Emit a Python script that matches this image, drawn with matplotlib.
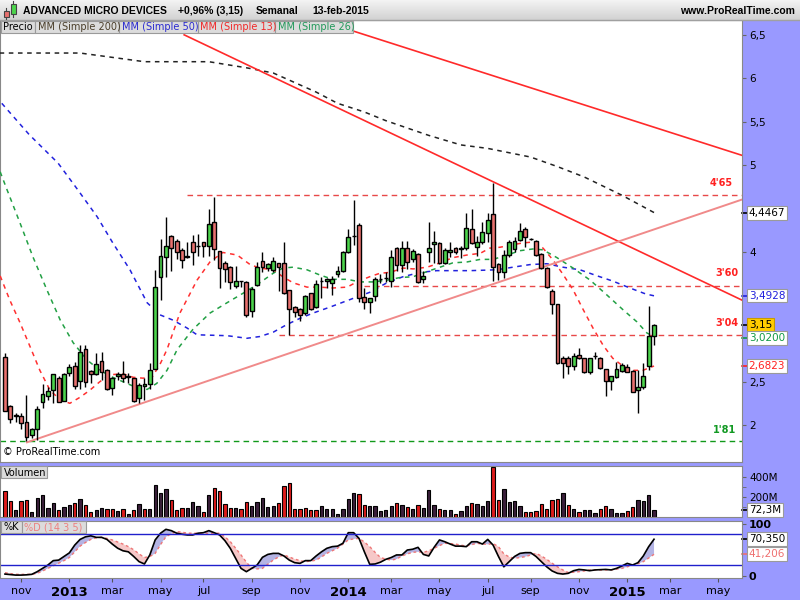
import numpy as np
import pandas as pd
import matplotlib
matplotlib.use('Agg')
from matplotlib import pyplot as plt
from matplotlib import transforms
from matplotlib.patches import Rectangle

plt.rcParams['font.family'] = ['DejaVu Sans']

# weekly bars, first one ends 19-oct-2012, last one 13-feb-2015
first_bar = '2012-10-19'

opens = [2.78, 2.22, 2.12, 2.10, 2.03, 1.89, 1.95, 2.27, 2.34, 2.40,
         2.54, 2.28, 2.60, 2.68, 2.51, 2.88, 2.62, 2.585, 2.74, 2.63,
         2.43, 2.565, 2.585, 2.55, 2.54, 2.31, 2.45, 2.47, 2.65, 3.71,
         3.94, 4.18, 4.12, 4.02, 3.95, 4.11, 4.07, 4.11, 4.07, 4.34,
         4.01, 3.865, 3.82, 3.605, 3.655, 3.645, 3.31, 3.62, 3.89, 3.81,
         3.79, 3.865, 3.865, 3.56, 3.365, 3.335, 3.29, 3.52, 3.36, 3.655,
         3.655, 3.635, 3.74, 3.78, 4.00, 4.185, 4.31, 3.48, 3.42, 3.49,
         3.685, 3.70, 3.655, 4.04, 3.845, 4.04, 3.92, 3.97, 3.68, 4.00,
         4.09, 4.095, 3.865, 3.99, 4.04, 4.025, 4.04, 4.255, 4.05, 4.11,
         4.22, 4.435, 3.855, 3.76, 3.955, 4.025, 4.135, 4.255, 4.145, 4.12,
         3.97, 3.81, 3.55, 3.40, 2.77, 2.775, 2.68, 2.81, 2.77, 2.615,
         2.79, 2.77, 2.64, 2.51, 2.55, 2.625, 2.67, 2.62, 2.40, 2.435,
         2.685, 3.03]
highs = [2.83, 2.23, 2.135, 2.14, 2.35, 1.97, 2.22, 2.47, 2.44, 2.585,
         2.565, 2.60, 2.70, 2.73, 2.92, 2.92, 2.63, 2.83, 2.84, 2.64,
         2.555, 2.61, 2.74, 2.60, 2.545, 2.48, 2.54, 2.71, 3.79, 4.15,
         4.40, 4.19, 4.14, 4.04, 4.11, 4.19, 4.20, 4.115, 4.49, 4.63,
         4.01, 3.895, 3.835, 3.835, 3.66, 3.66, 3.595, 3.885, 3.99, 3.865,
         3.94, 3.865, 4.115, 3.56, 3.37, 3.345, 3.50, 3.525, 3.67, 3.71,
         3.69, 3.72, 3.835, 4.01, 4.26, 4.60, 4.335, 3.585, 3.47, 3.71,
         3.74, 3.77, 4.02, 4.055, 4.125, 4.125, 4.03, 3.98, 3.78, 4.345,
         4.24, 4.115, 4.04, 4.115, 4.055, 4.065, 4.44, 4.49, 4.18, 4.345,
         4.45, 4.795, 3.865, 4.02, 4.135, 4.17, 4.325, 4.28, 4.155, 4.135,
         3.98, 3.82, 3.565, 3.40, 2.79, 2.79, 2.83, 2.885, 2.775, 2.775,
         2.845, 2.78, 2.645, 2.57, 2.725, 2.71, 2.70, 2.635, 2.635, 2.72,
         3.37, 3.17]
lows = [2.16, 2.02, 2.04, 1.95, 1.81, 1.85, 1.83, 2.20, 2.29, 2.25,
        2.26, 2.28, 2.56, 2.42, 2.42, 2.44, 2.48, 2.58, 2.52, 2.40,
        2.35, 2.52, 2.49, 2.48, 2.27, 2.25, 2.29, 2.42, 2.65, 3.44,
        3.71, 3.78, 3.91, 3.81, 3.93, 3.85, 3.95, 3.94, 3.95, 3.90,
        3.58, 3.65, 3.565, 3.585, 3.595, 3.24, 3.24, 3.60, 3.76, 3.78,
        3.77, 3.54, 3.51, 3.04, 3.25, 3.20, 3.27, 3.33, 3.345, 3.47,
        3.58, 3.50, 3.71, 3.77, 3.98, 4.08, 3.42, 3.335, 3.29, 3.43,
        3.64, 3.65, 3.59, 3.775, 3.77, 3.795, 3.885, 3.64, 3.64, 3.885,
        3.865, 3.855, 3.855, 3.935, 3.97, 3.925, 4.02, 4.09, 3.95, 4.09,
        4.11, 3.655, 3.67, 3.69, 3.935, 4.00, 4.125, 4.055, 4.135, 3.95,
        3.795, 3.575, 3.275, 2.70, 2.54, 2.59, 2.635, 2.76, 2.595, 2.585,
        2.76, 2.645, 2.34, 2.40, 2.54, 2.61, 2.61, 2.385, 2.135, 2.42,
        2.635, 2.92]
closes = [2.165, 2.065, 2.10, 2.02, 1.86, 1.95, 2.19, 2.36, 2.39, 2.585,
          2.27, 2.585, 2.665, 2.45, 2.84, 2.49, 2.585, 2.70, 2.61, 2.41,
          2.545, 2.59, 2.54, 2.56, 2.28, 2.46, 2.47, 2.63, 3.59, 3.95,
          4.06, 4.04, 3.99, 3.90, 3.94, 3.99, 4.07, 4.065, 4.315, 4.03,
          3.81, 3.80, 3.645, 3.66, 3.655, 3.27, 3.565, 3.82, 3.82, 3.855,
          3.895, 3.82, 3.52, 3.335, 3.30, 3.27, 3.49, 3.335, 3.63, 3.655,
          3.685, 3.685, 3.78, 3.99, 4.165, 4.185, 3.46, 3.42, 3.46, 3.68,
          3.685, 3.70, 3.94, 3.845, 4.04, 3.875, 4.01, 3.645, 3.715, 4.04,
          4.11, 3.865, 4.02, 4.015, 3.99, 4.045, 4.27, 4.095, 4.11, 4.23,
          4.36, 3.82, 3.76, 3.955, 4.11, 4.12, 4.24, 4.165, 4.145, 3.96,
          3.81, 3.59, 3.39, 2.71, 2.71, 2.685, 2.79, 2.77, 2.61, 2.77,
          2.79, 2.655, 2.51, 2.565, 2.64, 2.69, 2.615, 2.385, 2.44, 2.565,
          3.03, 3.15]

# volume in millions, r = red bar, k = dark bar
volumes = [255, 155, 65, 155, 165, 45, 192, 215, 92, 135,
           65, 98, 115, 138, 175, 115, 45, 72, 85, 75,
           75, 58, 82, 25, 65, 125, 82, 82, 315, 238,
           275, 165, 65, 92, 92, 145, 105, 45, 215, 292,
           255, 125, 92, 92, 75, 145, 105, 145, 192, 98,
           105, 138, 305, 332, 82, 75, 85, 65, 65, 105,
           75, 75, 32, 75, 175, 238, 225, 115, 105, 105,
           58, 65, 105, 138, 115, 98, 82, 115, 92, 265,
           122, 82, 72, 65, 32, 55, 105, 138, 125, 105,
           155, 492, 165, 275, 145, 155, 105, 45, 48, 55,
           125, 75, 165, 175, 238, 115, 82, 45, 65, 65,
           38, 75, 105, 75, 38, 38, 55, 98, 165, 155,
           215, 72.3]
vol_colors = ('rrkrrkkkkk' 'rkkrkrrkkr' 'rkrkrkrkkk' 'krrrkkkrkr'
              'rrrkrrkkkk' 'krrrrrrrrk' 'kkkkkkrrkk' 'kkkrkrkrkk'
              'krkkrkkrkk' 'krrkkkkrrr' 'rrrrkrkrkk' 'krrkkkrrkk'
              'kk')

# stochastic %K and %D (14 3 5)
stoch_k = [3, 2, 1, 1, 1.5, 2.5, 7.6, 14, 20.5, 29,
           30, 37, 44, 59, 70, 75, 77, 74, 74, 70,
           61, 53, 48, 46, 37, 27, 22.5, 40, 69, 82,
           89.5, 87, 82, 80, 78.6, 78.6, 82, 83, 87, 83,
           78.6, 67.6, 52.8, 33.4, 14, 7.6, 14, 20.5, 35.4, 41,
           43, 43, 38, 30, 25, 23.7, 29, 29, 38, 46,
           52.8, 56, 57, 62.5, 83, 83, 72, 46, 21.8, 22.5,
           26, 31.5, 35, 40, 40, 49.5, 51, 54.7, 41, 38,
           54.7, 69, 65.5, 61, 57, 57, 56, 65.5, 65.5, 61,
           70, 59, 37, 17, 27, 37, 43, 44.4, 44.4, 37,
           27, 17, 9, 4.4, 3, 4.4, 9.5, 12, 11, 9.5,
           11, 11.5, 12, 11, 14, 18.6, 23.7, 20.5, 25, 38,
           56, 70.35]
stoch_d = [5.7, 4, 2.5, 2.5, 2.5, 2.5, 4.4, 9, 14, 19,
           24, 29, 35, 46, 57, 64, 70, 73, 74, 72,
           69, 65, 61, 56, 50, 42, 35, 37, 43, 60,
           75, 81, 85, 84, 82, 82, 82, 82, 82, 82,
           82, 75, 65.7, 53, 40, 26, 14, 13, 14, 22,
           30, 36, 40, 36, 32, 29, 27, 28, 30, 36,
           43, 48, 53, 61, 69, 71, 72, 65, 56, 45,
           35, 32, 30, 32, 38, 42, 45, 46, 45, 48,
           52.8, 58, 62.5, 62, 61, 59, 57, 60, 62.5, 61,
           60.5, 62, 56, 42, 36, 33.4, 35, 36.6, 40, 43,
           38, 31.5, 24, 17, 11, 6, 6.5, 7.6, 9, 11,
           11, 11, 11, 11, 12.5, 14, 17, 20.5, 23, 27,
           34, 41.206]

# moving averages (bar index, value)
ma200_x = [-1, 14, 26, 38, 45, 50, 58, 62, 67, 71, 79, 85, 90, 98, 103, 108, 115, 121]
ma200_y = [6.29, 6.29, 6.19, 6.19, 6.12, 6.06, 5.84, 5.71, 5.61, 5.51, 5.34, 5.23,
           5.19, 5.09, 4.98, 4.86, 4.65, 4.45]
ma50_x = [-0.6, 4.5, 9.9, 13.6, 17.2, 20.1, 23.3, 26.5, 28.9, 31.3, 33.9, 35.8, 41.4,
          45.1, 47.5, 50.0, 52.6, 55.0, 57.4, 60.6, 64.9, 68.0, 71.2, 74.2, 77.4,
          80.5, 86.7, 91.7, 94.7, 97.9, 101.0, 104.0, 107.2, 110.4, 113.3, 116.5,
          119.5, 121]
ma50_y = [5.71, 5.35, 5.02, 4.71, 4.40, 4.10, 3.79, 3.41, 3.27, 3.21, 3.12, 3.04, 3.03,
          3.00, 3.02, 3.07, 3.16, 3.23, 3.29, 3.36, 3.46, 3.53, 3.64, 3.71, 3.76,
          3.78, 3.78, 3.79, 3.82, 3.85, 3.86, 3.82, 3.79, 3.72, 3.66, 3.58, 3.51, 3.49]
ma13_x = [-0.9, 0.9, 2.8, 4.7, 6.5, 8.4, 10.3, 12.1, 14.0, 15.8, 17.7, 19.6, 22.0,
          23.9, 25.7, 27.4, 28.9, 30.2, 32.6, 35.8, 38.2, 40.6, 43.3, 45.7, 47.5,
          50.0, 51.8, 53.7, 56.3, 58.7, 61.1, 63.8, 65.6, 68.0, 69.9, 71.8, 74.2,
          76.1, 78.7, 81.1, 83.5, 86.1, 88.6, 90.4, 92.3, 94.7, 96.6, 98.4, 100.3,
          102.2, 104.0, 105.9, 107.8, 109.6, 111.5, 113.3, 115.2, 117.1, 118.9, 121]
ma13_y = [3.72, 3.44, 3.18, 2.90, 2.63, 2.40, 2.29, 2.25, 2.32, 2.40, 2.50, 2.58, 2.59,
          2.55, 2.54, 2.55, 2.70, 2.87, 3.29, 3.67, 3.88, 3.99, 3.96, 3.85, 3.81,
          3.79, 3.71, 3.64, 3.59, 3.59, 3.58, 3.59, 3.65, 3.71, 3.75, 3.76, 3.81,
          3.80, 3.82, 3.87, 3.93, 3.96, 3.98, 4.04, 4.05, 4.08, 4.10, 4.11, 4.04,
          3.90, 3.74, 3.56, 3.33, 3.12, 2.92, 2.77, 2.68, 2.63, 2.63, 2.68]
ma26_x = [-0.9, 0.4, 2.8, 5.2, 7.8, 10.3, 12.7, 15.3, 17.7, 20.1, 22.7, 24.6, 26.5,
          28.3, 30.2, 32.1, 35.0, 38.2, 41.4, 44.4, 47.5, 50.0, 51.8, 53.7, 56.3,
          58.7, 61.1, 63.8, 66.2, 68.6, 71.2, 73.6, 76.1, 78.7, 81.1, 83.5, 86.1,
          88.6, 91.0, 93.6, 96.0, 98.4, 100.3, 102.9, 105.9, 109.1, 112.2, 115.2,
          117.8, 119.7, 121]
ma26_y = [4.92, 4.71, 4.33, 3.94, 3.56, 3.21, 2.95, 2.75, 2.63, 2.55, 2.48, 2.43, 2.41,
          2.48, 2.63, 2.87, 3.10, 3.29, 3.41, 3.52, 3.64, 3.75, 3.81, 3.82, 3.79,
          3.73, 3.68, 3.68, 3.65, 3.65, 3.67, 3.70, 3.71, 3.77, 3.82, 3.87, 3.88,
          3.91, 3.91, 3.96, 4.01, 4.03, 4.02, 3.93, 3.81, 3.67, 3.50, 3.33,
          3.19, 3.06, 3.02]

# support / resistance levels: (price, first bar, label)
levels = [(4.65, 33.9, "4'65"), (3.60, 67.0, "3'60"), (3.04, 51.0, "3'04")]
support = 1.81
# trend lines: (bar, price) pairs
trend_down1 = [(33.4, 6.50), (137.4, 3.44)]
trend_down2 = [(65.1, 6.54), (137.4, 5.11)]
trend_up = [(4.1, 1.80), (137.4, 4.60)]

PURPLE = '#9999ff'
GREEN = '#4cd44c'
RED = '#e8706e'

n = len(closes)
x = np.arange(n)
o = np.array(opens); h = np.array(highs); l = np.array(lows); c = np.array(closes)

fig = plt.figure(figsize=(8, 6), dpi=100, facecolor=PURPLE)
W, H = 800, 600
ax = fig.add_axes([0, 138 / H, 742 / W, 442 / H])
ax_vol = fig.add_axes([0, 83 / H, 742 / W, 51 / H], sharex=ax)
ax_sto = fig.add_axes([0, 22 / H, 742 / W, 57 / H], sharex=ax)

# ---- price panel
body_col = [GREEN if cc > oo else (RED if cc < oo else 'white') for oo, cc in zip(o, c)]
ax.vlines(x, l, h, color='black', lw=1, zorder=4)
ax.bar(x, np.abs(c - o), bottom=np.minimum(o, c), width=0.72, color=body_col,
       edgecolor='black', linewidth=1, zorder=5)

dash = (0, (3, 3))
ax.plot(ma200_x, ma200_y, color='#222222', lw=1.1, ls=dash, zorder=3)
ax.plot(ma50_x, ma50_y, color='#2222dd', lw=1.1, ls=dash, zorder=3)
ax.plot(ma13_x, ma13_y, color='#ff3030', lw=1.1, ls=dash, zorder=3)
ax.plot(ma26_x, ma26_y, color='#22a044', lw=1.1, ls=dash, zorder=3)

xmax = 137.4
for price, start, lab in levels:
    ax.plot([start, xmax], [price, price], color='#e84848', lw=1, ls=(0, (4, 3)), zorder=2)
ax.axhline(support, color='#11991a', lw=1, ls=(0, (4, 3)), zorder=2)
ax.text(135.7, 4.79, "4'65", color='#ff2020', fontsize=7, fontweight='bold', ha='right', va='center')
ax.text(136.8, 3.75, "3'60", color='#ff2020', fontsize=7, fontweight='bold', ha='right', va='center')
ax.text(136.8, 3.18, "3'04", color='#ff2020', fontsize=7, fontweight='bold', ha='right', va='center')
ax.text(136.3, 1.94, "1'81", color='#119922', fontsize=7, fontweight='bold', ha='right', va='center')

for (x0, y0), (x1, y1) in [trend_down1, trend_down2]:
    ax.plot([x0, x1], [y0, y1], color='#ff2a2a', lw=1.2, zorder=3)
ax.plot([p[0] for p in trend_up], [p[1] for p in trend_up], color='#f08a8a', lw=1.4, zorder=3)

ax.text(0.004, 0.012, '© ProRealTime.com', transform=ax.transAxes, fontsize=7, va='bottom')

ax.set_xlim(-0.93, xmax)
ax.set_ylim(1.573, 6.671)
ax.yaxis.tick_right()
yt = [2, 2.5, 4, 5, 5.5, 6, 6.5]
ax.set_yticks(yt)
ax.set_yticklabels([f'{v:g}'.replace('.', ',') for v in yt])
ax.tick_params(axis='y', length=3, pad=2, labelsize=7.5, color='#666666')
ax.tick_params(axis='x', bottom=False, labelbottom=False)

def value_box(a, y, txt, col, fc='white', ec='#9a9a9a', tick=None):
    tr = transforms.blended_transform_factory(a.transAxes, a.transData)
    a.plot([1.0, 1.007], [y, y], color=tick or col, lw=1.2, transform=tr, clip_on=False)
    a.text(1.009, y, txt, transform=tr, color=col, fontsize=7.5, va='center', ha='left',
           bbox=dict(boxstyle='square,pad=0.18', fc=fc, ec=ec, lw=0.8), clip_on=False)

value_box(ax, 4.4467, '4,4467', 'black')
value_box(ax, 3.4928, '3,4928', '#2020dd')
value_box(ax, 3.15, '3,15', 'black', fc='#ffcc00', ec='#c89a00')
value_box(ax, 3.00, '3,0200', '#119944')
value_box(ax, 2.6823, '2,6823', '#ff2020')

# ---- volume panel
vcol = ['#dd1c1c' if f == 'r' else '#3b1f3b' for f in vol_colors]
ax_vol.bar(x, volumes, width=0.62, color=vcol, edgecolor='black', linewidth=0.8)
ax_vol.set_ylim(0, 505)
ax_vol.yaxis.tick_right()
ax_vol.set_yticks([200, 400])
ax_vol.set_yticklabels(['200M', '400M'])
ax_vol.set_yticks([100, 300], minor=True)
ax_vol.tick_params(axis='y', which='both', length=3, pad=2, labelsize=7.5, color='#666666')
ax_vol.tick_params(axis='x', bottom=False, labelbottom=False)
value_box(ax_vol, 72.3, '72,3M', 'black')

# ---- stochastic panel
k = np.array(stoch_k); d = np.array(stoch_d)
ax_sto.fill_between(x, k, d, where=k >= d, interpolate=True, color='#b4b4e4', lw=0)
ax_sto.fill_between(x, k, d, where=k < d, interpolate=True, color='#f6c8c8', lw=0)
ax_sto.plot(x, d, color='#ee7777', lw=1, ls=(0, (2, 2)))
ax_sto.plot(x, k, color='black', lw=1.2)
ax_sto.axhline(80, color='#2020cc', lw=1)
ax_sto.axhline(20, color='#2020cc', lw=1)
ax_sto.set_ylim(-4.6, 105.6)
ax_sto.yaxis.tick_right()
ax_sto.set_yticks([0, 100])
ax_sto.set_yticklabels(['0', '100'], fontweight='bold')
ax_sto.tick_params(axis='y', length=3, pad=2, labelsize=8, color='#666666')
value_box(ax_sto, 70.35, '70,350', 'black')
value_box(ax_sto, 41.206, '41,206', '#ee7070')

# month ticks at the first bar of each month
dates = pd.date_range(first_bar, periods=139, freq='W-FRI')
mon = (dates - pd.Timedelta(days=4)).month
names = {3: 'mar', 5: 'may', 7: 'jul', 9: 'sep', 11: 'nov'}
tpos, tlab = [], []
for i in range(1, len(dates)):
    if mon[i] != mon[i - 1] and mon[i] % 2 == 1 and i <= xmax:
        tpos.append(i)
        tlab.append(str(dates[i].year) if mon[i] == 1 else names[mon[i]])
ax_sto.set_xticks(tpos)
ax_sto.set_xticklabels(tlab)
ax_sto.tick_params(axis='x', length=3, pad=2.5, labelsize=8, color='#555555')
for t in ax_sto.get_xticklabels():
    if t.get_text().isdigit():
        t.set_fontweight('bold')
        t.set_fontsize(9.5)

for a in (ax, ax_vol, ax_sto):
    for s in a.spines.values():
        s.set_color('#888888')
        s.set_linewidth(0.8)

# ---- header, legends (pixel overlay)
ov = fig.add_axes([0, 0, 1, 1], zorder=10)
ov.set_xlim(0, W)
ov.set_ylim(H, 0)
ov.axis('off')
ov.patch.set_alpha(0)
grad = np.linspace(0.95, 0.82, 20)[:, None] * np.ones((1, 2))
ov.imshow(grad, cmap='gray', vmin=0, vmax=1, extent=[0, W, 20, 0], aspect='auto', zorder=1)
ov.plot([0, W], [20, 20], color='#a0a0a0', lw=1, zorder=2)

ov.plot([6, 6], [8, 19], color='#444444', lw=0.8, zorder=3)
ov.add_patch(Rectangle((3.5, 11), 5, 6, fc=RED, ec='#444444', lw=0.8, zorder=4))
ov.plot([13, 13], [1, 17], color='#444444', lw=0.8, zorder=3)
ov.add_patch(Rectangle((10.5, 4), 5, 10, fc=GREEN, ec='#444444', lw=0.8, zorder=4))

hdr = dict(fontsize=7.5, fontweight='bold', va='center', family='Liberation Sans', zorder=5)
ov.text(23, 11, 'ADVANCED MICRO DEVICES', ha='left', **hdr)
ov.text(178, 11, '+0,96% (3,15)', ha='left', **hdr)
ov.text(256, 11, 'Semanal', ha='left', **hdr)
ov.text(312, 11, '13-feb-2015', ha='left', **hdr)
ov.text(795, 11, 'www.ProRealTime.com', ha='right', **hdr)

def tag(x0, x1, y0, y1, txt, col):
    ov.add_patch(Rectangle((x0, y0), x1 - x0, y1 - y0, fc='#dcdcdc', ec='#9a9a9a', lw=0.8, zorder=6))
    ov.text(x0 + 2.5, (y0 + y1) / 2 + 0.5, txt, color=col, fontsize=7, va='center', ha='left', zorder=7)

tag(1, 35, 21, 33, 'Precio', 'black')
tag(35, 119, 21, 33, 'MM (Simple 200)', '#4a3e2a')
tag(119, 198, 21, 33, 'MM (Simple 50)', '#2a2ad0')
tag(198, 275, 21, 33, 'MM (Simple 13)', '#f02a2a')
tag(275, 353, 21, 33, 'MM (Simple 26)', '#22995a')
tag(1, 47, 466, 478, 'Volumen', 'black')
tag(1, 22, 521, 533, '%K', 'black')
tag(22, 86, 521, 533, '%D (14 3 5)', '#ee8080')

fig.savefig('out.png', dpi=100, facecolor=PURPLE)
